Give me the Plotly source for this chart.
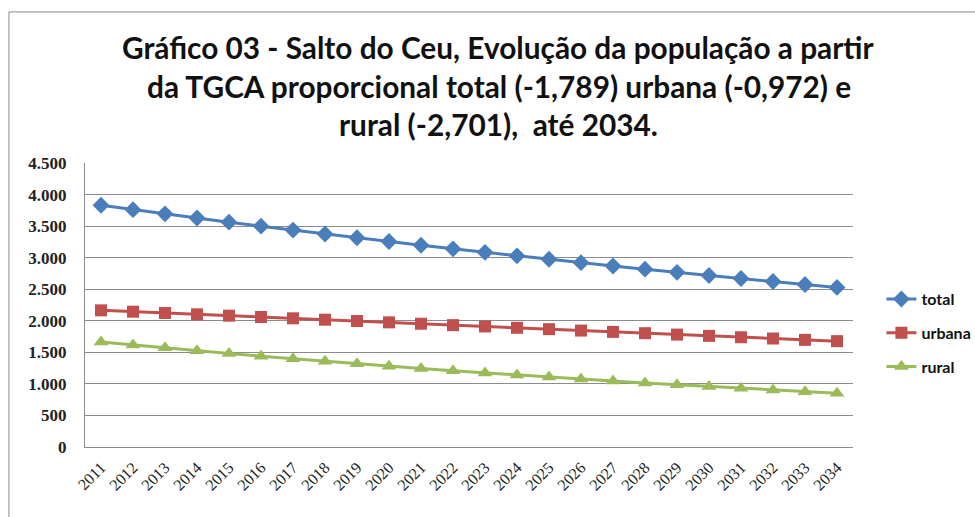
import plotly.graph_objects as go

# Projected population, Salto do Ceu, 2011-2034
anos = [str(a) for a in range(2011, 2035)]
total = [3830, 3761, 3694, 3628, 3563, 3499, 3437, 3375, 3315, 3256, 3197, 3140,
         3084, 3029, 2975, 2921, 2869, 2818, 2767, 2718, 2669, 2622, 2575, 2529]
urbana = [2165, 2144, 2123, 2102, 2081, 2060, 2039, 2017, 1996, 1975, 1953, 1931,
          1910, 1889, 1867, 1845, 1824, 1803, 1781, 1761, 1739, 1719, 1698, 1677]
rural = [1665, 1617, 1571, 1526, 1482, 1439, 1398, 1358, 1319, 1281, 1244, 1209,
         1174, 1140, 1108, 1076, 1045, 1015, 986, 957, 930, 903, 877, 852]

titulo = [
    "Gráfico 03 - Salto do Ceu, Evolução da população a partir",
    "da TGCA proporcional total (-1,789) urbana (-0,972) e",
    "rural (-2,701),  até 2034.",
]

series = [
    ("total", total, "#4A7EBB", "diamond", 13),
    ("urbana", urbana, "#C0504D", "square", 12),
    ("rural", rural, "#9BBB59", "triangle-up", 13),
]

fig = go.Figure()
for nome, valores, cor, simbolo, tam in series:
    fig.add_trace(go.Scatter(
        x=anos, y=valores, name=nome, legendgroup=nome,
        mode="lines+markers",
        line=dict(color=cor, width=3),
        marker=dict(symbol=simbolo, size=tam, color=cor),
    ))

# Title lines
for linha, yp in zip(titulo, [1.408, 1.271, 1.137]):
    fig.add_annotation(
        text=linha, xref="paper", yref="paper", x=0.539, y=yp,
        xanchor="center", yanchor="middle", showarrow=False,
        font=dict(family="Lato", size=29.8, color="#111111", weight="bold"),
    )

# Outer chart frame
fig.add_shape(type="rect", xref="paper", yref="paper",
              x0=-0.099, y0=-0.5, x1=1.2, y1=1.532,
              line=dict(color="#8C8C8C", width=1), layer="below")

fig.update_layout(
    width=975, height=517,
    margin=dict(l=85, r=122, t=163, b=70, autoexpand=False),
    paper_bgcolor="white", plot_bgcolor="white",
    separators=",.",
    showlegend=True,
    legend=dict(
        x=1.037, y=0.401, xanchor="left", yanchor="middle",
        font=dict(family="Lato", size=16, color="#111111", weight="bold"),
        tracegroupgap=10, bgcolor="rgba(0,0,0,0)",
    ),
    xaxis=dict(
        type="category", tickangle=-45, range=[-0.5, len(anos) - 0.5],
        tickfont=dict(family="Liberation Serif", size=16, color="#222222"),
        showgrid=False, showline=True, linecolor="#8C8C8C", linewidth=1,
        ticks="", zeroline=False, ticklabelstandoff=4,
    ),
    yaxis=dict(
        range=[0, 4500], dtick=500, tickformat=",d",
        tickfont=dict(family="Liberation Serif", size=17, color="#222222", weight="bold"),
        showgrid=True, gridcolor="#8C8C8C", gridwidth=1,
        showline=True, linecolor="#8C8C8C", linewidth=1,
        zeroline=False, ticklabelstandoff=14,
    ),
)

fig.write_html("out.html")
